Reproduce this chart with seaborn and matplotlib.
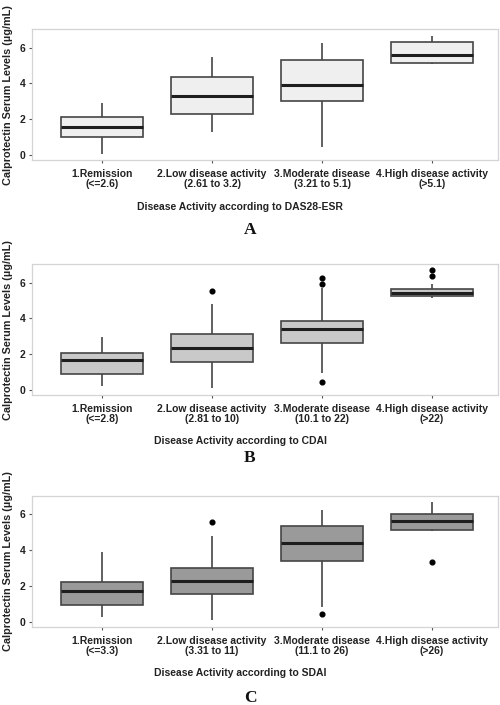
import numpy as np
import pandas as pd
import matplotlib
matplotlib.use("Agg")
import matplotlib.pyplot as plt
import seaborn as sns

# ---------------- data ----------------
groups = ["1.Remission", "2.Low disease activity", "3.Moderate disease", "4.High disease activity"]

ranges_A = ["(<=2.6)", "(2.61 to 3.2)", "(3.21 to 5.1)", "(>5.1)"]
ranges_B = ["(<=2.8)", "(2.81 to 10)", "(10.1 to 22)", "(>22)"]
ranges_C = ["(<=3.3)", "(3.31 to 11)", "(11.1 to 26)", "(>26)"]

xlabel_A = "Disease Activity according to DAS28-ESR"
xlabel_B = "Disease Activity according to CDAI"
xlabel_C = "Disease Activity according to SDAI"
ylabel = "Calprotectin Serum Levels (\u00b5g/mL)"

# five-number summaries per group: whisker low, Q1, median, Q3, whisker high
A_low = [0.06, 1.30, 0.47, 5.08]
A_q1 = [0.99, 2.29, 3.04, 5.16]
A_med = [1.55, 3.30, 3.89, 5.58]
A_q3 = [2.14, 4.34, 5.31, 6.33]
A_high = [2.92, 5.49, 6.24, 6.68]
A_out = [[], [], [], []]

B_low = [0.24, 0.09, 0.93, 5.13]
B_q1 = [0.875, 1.56, 2.63, 5.26]
B_med = [1.66, 2.37, 3.43, 5.45]
B_q3 = [2.05, 3.11, 3.87, 5.66]
B_high = [2.98, 4.79, 5.72, 5.91]
B_out = [[], [5.55], [0.45, 5.92, 6.28], [6.38, 6.71]]

C_low = [0.28, 0.09, 0.84, 5.08]
C_q1 = [0.93, 1.56, 3.40, 5.12]
C_med = [1.73, 2.27, 4.41, 5.64]
C_q3 = [2.20, 3.02, 5.34, 6.05]
C_high = [3.91, 4.79, 6.24, 6.69]
C_out = [[], [5.55], [0.43], [3.33]]


def sample_from_summary(lo, q1, med, q3, hi, outs):
    """Build a small sample whose quartiles/whiskers equal the read summary."""
    low_out = sorted(o for o in outs if o < q1)
    high_out = sorted(o for o in outs if o > q3)
    k = max(len(low_out), len(high_out)) + 1
    lower = low_out + [lo] + [q1] * (k - 1 - len(low_out))
    upper = [q3] * (k - 1 - len(high_out)) + [hi] + high_out
    return lower + [q1] + [med] * (2 * k - 1) + [q3] + upper


def make_frame(lows, q1s, meds, q3s, highs, outs, labels):
    rows = []
    for lab, lo, a, m, b, hi, o in zip(labels, lows, q1s, meds, q3s, highs, outs):
        for v in sample_from_summary(lo, a, m, b, hi, o):
            rows.append((lab, v))
    return pd.DataFrame(rows, columns=["group", "value"])


# ---------------- styling ----------------
sns.set_theme(style="white")
plt.rcParams["font.family"] = ["Liberation Sans", "DejaVu Sans"]
plt.rcParams["font.weight"] = "bold"

W, H = 500, 705
fig = plt.figure(figsize=(W / 100, H / 100), dpi=100)
fig.patch.set_facecolor("white")

panels = [
    (A_low, A_q1, A_med, A_q3, A_high, A_out, ranges_A, xlabel_A, "A", "#efefef", 29.3, 160.0, 230),
    (B_low, B_q1, B_med, B_q3, B_high, B_out, ranges_B, xlabel_B, "B", "#c9c9c9", 264.3, 395.0, 458),
    (C_low, C_q1, C_med, C_q3, C_high, C_out, ranges_C, xlabel_C, "C", "#9a9a9a", 496.0, 626.7, 698),
]

ax_left, ax_right = 31.7, 498.0

for lows, q1s, meds, q3s, highs, outs, rng, xlab, letter, fill, top, bot, ly in panels:
    labels = [f"{g}\n{r}" for g, r in zip(groups, rng)]
    df = make_frame(lows, q1s, meds, q3s, highs, outs, labels)
    ax = fig.add_axes([ax_left / W, 1 - bot / H, (ax_right - ax_left) / W, (bot - top) / H])
    sns.boxplot(
        data=df, x="group", y="value", order=labels, ax=ax,
        color=fill, saturation=1, width=0.75, whis=1.5,
        linewidth=1.2, linecolor="#454545", showcaps=False,
        medianprops=dict(color="#1e1e1e", linewidth=2.2),
        flierprops=dict(marker="o", markerfacecolor="black", markeredgecolor="black",
                        markersize=3.4),
    )
    ax.set_ylim(-0.28, 7.03)
    ax.set_xlim(-0.64, 3.6)
    ax.set_yticks([0, 2, 4, 6])
    ax.set_yticklabels(["0", "2", "4", "6"], fontsize=7.5, fontweight="bold", color="#222222")
    ax.set_xticks(range(4))
    ax.set_xticklabels(labels, fontsize=7.5, fontweight="bold", color="#222222", linespacing=1.05)
    ax.tick_params(axis="both", which="both", length=2.5, width=0.8, color="#555555",
                   direction="out", left=True, bottom=True)
    ax.tick_params(axis="x", pad=4)
    ax.tick_params(axis="y", pad=2)
    for s in ax.spines.values():
        s.set_color("#d4d4d4")
        s.set_linewidth(0.9)
    ax.set_xlabel(xlab, fontsize=7.5, fontweight="bold", color="#222222", va="center")
    ax.xaxis.set_label_coords((240 - ax_left) / (ax_right - ax_left), -(206.5 - 160) / (bot - top))
    ax.set_ylabel(ylabel, fontsize=7.8, fontweight="bold", color="#222222", va="center")
    ax.yaxis.set_label_coords((8 - ax_left) / (ax_right - ax_left), 0.5)
    fig.text(250 / W, 1 - ly / H, letter, ha="center", va="center", fontsize=12.5,
             fontweight="bold", family=["Liberation Serif", "DejaVu Serif"], color="#111111")

fig.savefig("out.png", dpi=100, facecolor="white")
